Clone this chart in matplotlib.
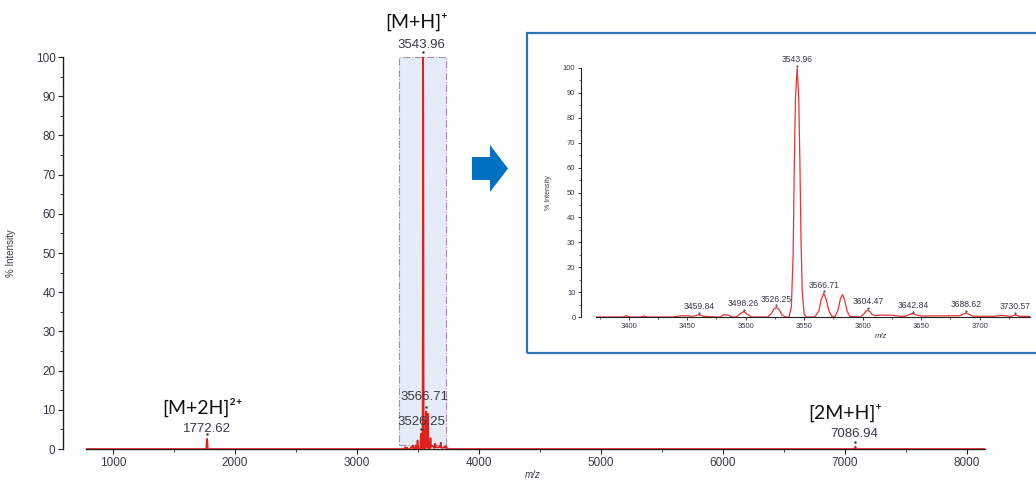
import numpy as np
import matplotlib.pyplot as plt
from matplotlib.patches import Rectangle, Polygon
from matplotlib.ticker import MultipleLocator
from matplotlib.transforms import Bbox

plt.rcParams['font.family'] = ['Liberation Sans', 'DejaVu Sans']

# spectrum profile (m/z, % intensity)
mz = [780,
      1765, 1768, 1770, 1772.62, 1775, 1777, 1780,
      3372, 3395, 3398, 3401, 3410, 3413, 3416,
      3438, 3445, 3452, 3455, 3459.84, 3464, 3474,
      3478, 3481, 3485, 3488,
      3492, 3495, 3498.26, 3501, 3505,
      3519, 3522, 3524, 3526.25, 3528.5, 3531, 3534,
      3537, 3539, 3540.5, 3541.5, 3542.5, 3543.96, 3545.3, 3546.3, 3547.3, 3548.3, 3550, 3552,
      3559, 3562.5, 3564.5, 3566.71, 3568.8, 3571, 3573.5,
      3576.5, 3579, 3581, 3582.8, 3584.5, 3586.5, 3589,
      3598, 3601, 3602.5, 3604.47, 3606.5, 3608, 3611, 3615, 3625, 3632,
      3636, 3640, 3642.84, 3646, 3650, 3678,
      3683, 3686, 3688.62, 3691, 3694, 3712, 3718, 3722, 3727, 3730.57, 3734, 3745, 3750,
      7075, 7083, 7086.94, 7091, 7095, 8150]
intensity = [0,
             0, 0.8, 2.0, 2.6, 2.0, 0.8, 0,
             0, 0, 0.5, 0, 0, 0.4, 0,
             0, 0.5, 0.4, 0.3, 0.9, 0.3, 0,
             0, 0.9, 0.8, 0,
             0, 1.2, 2.2, 1.2, 0,
             0, 1.5, 3.2, 3.9, 3.0, 0.8, 0,
             0, 4, 25, 60, 88, 100, 88, 62, 30, 10, 1, 0,
             0, 2.5, 7, 9.6, 7, 2.5, 0.3,
             0.3, 3, 7.5, 9.0, 7, 2.5, 0.2,
             0, 1.2, 2.2, 2.8, 2.0, 1.0, 0.5, 0.8, 0.7, 0.3,
             0.3, 1.0, 1.4, 0.8, 0.4, 0.5,
             0.5, 1.2, 1.6, 1.1, 0.3, 0.3, 0.6, 0.5, 0.3, 0.8, 0.3, 0.2, 0,
             0, 0.3, 0.6, 0.3, 0, 0]

# labelled peaks
main_peaks = [1772.62, 3526.25, 3543.96, 3566.71, 7086.94]
main_heights = [2.6, 3.9, 100, 9.6, 0.6]
main_labels = ['1772.62', '3526.25', '3543.96', '3566.71', '7086.94']
ion_peaks = [3543.96, 1772.62, 7086.94]
ion_heights = [100, 2.6, 0.6]
ion_labels = ['[M+H]⁺', '[M+2H]²⁺', '[2M+H]⁺']
inset_peaks = [3459.84, 3498.26, 3526.25, 3543.96, 3566.71, 3604.47, 3642.84, 3688.62, 3730.57]
inset_heights = [0.9, 2.2, 3.9, 100, 9.6, 2.8, 1.4, 1.6, 0.8]

red = '#e0201c'
tick_col = '#3a3a46'
W, H = 1036, 480

fig = plt.figure(figsize=(10.36, 4.8), dpi=100)

# ---- main spectrum ----
ax = fig.add_axes([86 / W, 1 - 449 / H, (985 - 86) / W, (449 - 57) / H])
ax.add_patch(Rectangle((3342, 1), 386, 99, facecolor='#e4edf7', edgecolor='#a98bb0',
                       ls='-.', lw=0.8, zorder=1))
ax.plot(mz, intensity, color=red, lw=1.2, zorder=3)
ax.set_xlim(780, 8150)
ax.set_ylim(0, 100)
ax.spines['top'].set_visible(False)
ax.spines['right'].set_visible(False)
ax.spines['left'].set_position(('outward', 16.5))
for s in ['left', 'bottom']:
    ax.spines[s].set_color('#222222')
    ax.spines[s].set_linewidth(1.0)
ax.xaxis.set_major_locator(MultipleLocator(1000))
ax.xaxis.set_minor_locator(MultipleLocator(500))
ax.yaxis.set_major_locator(MultipleLocator(10))
ax.yaxis.set_minor_locator(MultipleLocator(5))
ax.tick_params(which='major', length=3.5, width=0.8, color='#222222', labelsize=8.5,
               labelcolor=tick_col, pad=2)
ax.tick_params(which='minor', length=2, width=0.6, color='#222222')
ax.set_xlabel('m/z', fontsize=7, style='italic', color=tick_col)
ax.xaxis.set_label_coords(0.497, -0.054)
ax.set_ylabel('% Intensity', fontsize=7, color=tick_col)
ax.yaxis.set_label_coords(-0.078, 0.5)

main_offsets = [(0, 7), (0, 8.4), (-1, 8.6), (-1, 10.4), (-1, 9)]
for x, h, t, off in zip(main_peaks, main_heights, main_labels, main_offsets):
    ax.annotate(t, (x, h), xytext=off, textcoords='offset points', ha='center',
                va='center', fontsize=9.5, color=tick_col, annotation_clip=False)
ax.plot(main_peaks, [h + 1.2 for h in main_heights], ls='none', marker='.', ms=1.5,
        color='#333333', clip_on=False, zorder=4)

ion_offsets = [(-4.5, 25), (-3.5, 22.5), (-7, 24.5)]
for x, h, t, off in zip(ion_peaks, ion_heights, ion_labels, ion_offsets):
    ax.annotate(t, (x, h), xytext=off, textcoords='offset points', ha='center',
                va='center', fontsize=14, color='#111111', annotation_clip=False,
                family=['Lato', 'DejaVu Sans'])

# ---- arrow ----
arrow = [(472, 157), (490, 157), (490, 145), (508, 168.5), (490, 192), (490, 180), (472, 180)]
fig.patches.append(Polygon([(x / W, 1 - y / H) for x, y in arrow], closed=True,
                           transform=fig.transFigure, facecolor='#0070c0', edgecolor='none'))

# ---- inset ----
fig.patches.append(Rectangle((527 / W, 1 - 353 / H), 0.6, 320 / H, transform=fig.transFigure,
                             fill=False, edgecolor='#2e75b6', lw=1.6))
axi = fig.add_axes([596 / W, 1 - 317 / H, (1030 - 596) / W, (317 - 68) / H])
axi.plot(mz, intensity, color='#e83434', lw=0.9)
axi.set_xlim(3372, 3743)
axi.set_ylim(0, 100)
axi.spines['top'].set_visible(False)
axi.spines['right'].set_visible(False)
axi.spines['left'].set_position(('outward', 10.8))
for s in ['left', 'bottom']:
    axi.spines[s].set_color('#222222')
    axi.spines[s].set_linewidth(0.8)
axi.xaxis.set_major_locator(MultipleLocator(50))
axi.xaxis.set_minor_locator(MultipleLocator(25))
axi.yaxis.set_major_locator(MultipleLocator(10))
axi.yaxis.set_minor_locator(MultipleLocator(5))
axi.tick_params(which='major', length=2.5, width=0.6, color='#222222', labelsize=5.5,
                labelcolor=tick_col, pad=1.5)
axi.tick_params(which='minor', length=1.5, width=0.5, color='#222222')
axi.set_xlabel('m/z', fontsize=5.5, style='italic', color=tick_col)
axi.xaxis.set_label_coords(0.657, -0.065)
axi.set_ylabel('% Intensity', fontsize=5, color=tick_col)
axi.yaxis.set_label_coords(-0.101, 0.5)
cut = Bbox.from_extents(0, 0, 1030, H)
for x, h in zip(inset_peaks, inset_heights):
    t = axi.annotate(f'{x:.2f}', (x, h), xytext=(0, 5.8), textcoords='offset points',
                     ha='center', va='center', fontsize=6.2, color=tick_col,
                     annotation_clip=False)
    t.set_clip_box(cut)
    t.set_clip_on(True)
axi.plot(inset_peaks, [h + 0.8 for h in inset_heights], ls='none', marker='.', ms=1,
         color='#333333', clip_on=False)

fig.savefig('out.png', dpi=100)
